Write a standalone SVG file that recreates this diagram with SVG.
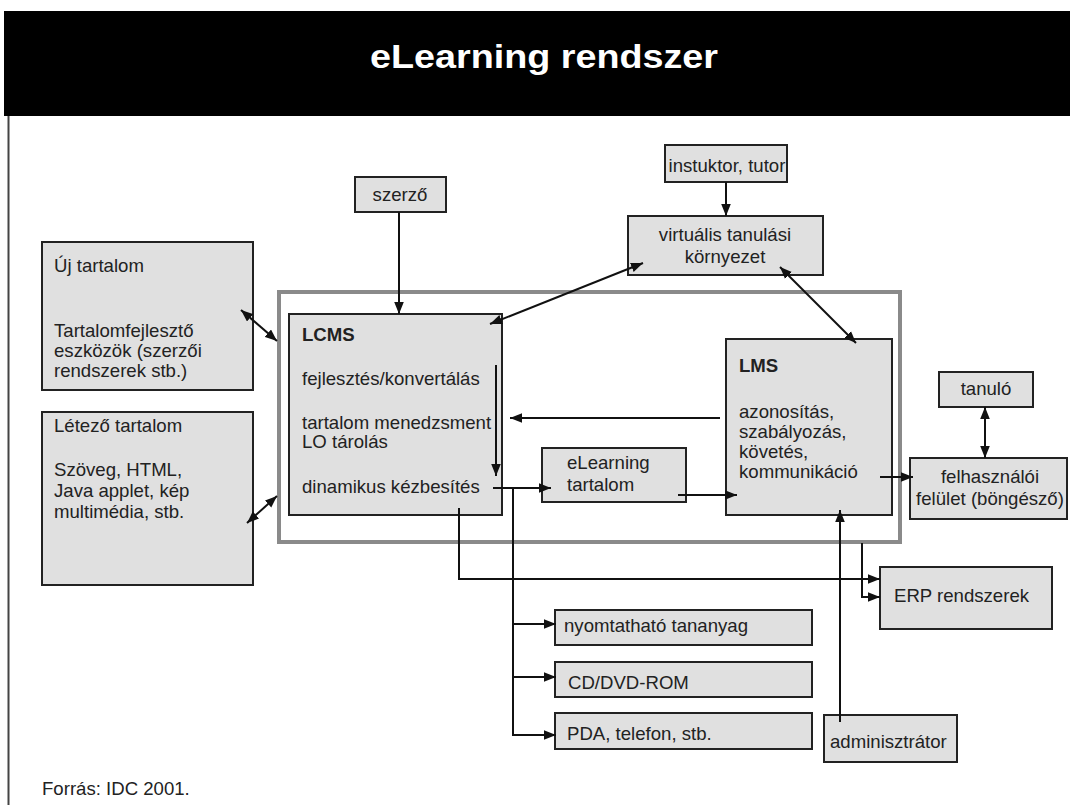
<svg xmlns="http://www.w3.org/2000/svg" width="1070" height="805" viewBox="0 0 1070 805">
<style>
.bx{fill:#e0e0e0;stroke:#222;stroke-width:2}
.t{font-family:"Liberation Sans",Arial,sans-serif;font-size:18.6px;fill:#222}
.b{font-weight:bold}
.m{text-anchor:middle}
.c{fill:none;stroke:#111;stroke-width:2}
</style>
<defs>
<marker id="ah" viewBox="0 0 10 8" refX="10" refY="4" markerWidth="12" markerHeight="10" markerUnits="userSpaceOnUse" orient="auto-start-reverse">
<path d="M0,0 L10,4 L0,8 z" fill="#111"/>
</marker>
</defs>
<rect x="0" y="0" width="1070" height="805" fill="#fff"/>
<g id="title">
<rect x="4" y="11" width="1066" height="105" fill="#000"/>
<text x="544" y="68" font-family="'Liberation Sans',Arial,sans-serif" font-size="33" font-weight="bold" fill="#fff" text-anchor="middle" textLength="348" lengthAdjust="spacingAndGlyphs">eLearning rendszer</text>
</g>
<line x1="8.5" y1="116" x2="8.5" y2="805" stroke="#444" stroke-width="2"/>
<g id="frame">
<rect x="279" y="292" width="621" height="250" fill="none" stroke="#8a8a8a" stroke-width="4"/>
</g>
<g id="szerzo">
<rect class="bx" x="355" y="177" width="91" height="35"/>
<text class="t m" x="400" y="201">szerző</text>
</g>
<g id="uj-tartalom">
<rect class="bx" x="42" y="242" width="211" height="148"/>
<text class="t" x="54" y="272">Új tartalom</text>
<text class="t" x="54" y="337">Tartalomfejlesztő</text>
<text class="t" x="54" y="357">eszközök (szerzői</text>
<text class="t" x="54" y="377">rendszerek stb.)</text>
</g>
<g id="letezo-tartalom">
<rect class="bx" x="42" y="412" width="211" height="173"/>
<text class="t" x="54" y="432">Létező tartalom</text>
<text class="t" x="54" y="476">Szöveg, HTML,</text>
<text class="t" x="54" y="497">Java applet, kép</text>
<text class="t" x="54" y="518">multimédia, stb.</text>
</g>
<g id="lcms">
<rect class="bx" x="289" y="314" width="213" height="201"/>
<text class="t b" x="302" y="341">LCMS</text>
<text class="t" x="302" y="385">fejlesztés/konvertálás</text>
<text class="t" x="302" y="429">tartalom menedzsment</text>
<text class="t" x="302" y="448">LO tárolás</text>
<text class="t" x="302" y="493">dinamikus kézbesítés</text>
</g>
<g id="instruktor">
<rect class="bx" x="665" y="145" width="122" height="37"/>
<text class="t m" x="727" y="172">instuktor, tutor</text>
</g>
<g id="virtualis">
<rect class="bx" x="628" y="216" width="195" height="59"/>
<text class="t m" x="725" y="241">virtuális tanulási</text>
<text class="t m" x="725" y="263">környezet</text>
</g>
<g id="lms">
<rect class="bx" x="726" y="339" width="166" height="176"/>
<text class="t b" x="739" y="372">LMS</text>
<text class="t" x="739" y="418">azonosítás,</text>
<text class="t" x="739" y="438">szabályozás,</text>
<text class="t" x="739" y="458">követés,</text>
<text class="t" x="739" y="478">kommunikáció</text>
</g>
<g id="elearning-tartalom">
<rect class="bx" x="542" y="448" width="144" height="54"/>
<text class="t" x="567" y="469">eLearning</text>
<text class="t" x="567" y="491">tartalom</text>
</g>
<g id="tanulo">
<rect class="bx" x="939" y="372" width="94" height="35"/>
<text class="t m" x="986" y="395">tanuló</text>
</g>
<g id="felhasznaloi">
<rect class="bx" x="910" y="458" width="157" height="61"/>
<text class="t m" x="990" y="483">felhasználói</text>
<text class="t m" x="990" y="505">felület (böngésző)</text>
</g>
<g id="erp">
<rect class="bx" x="880" y="567" width="172" height="62"/>
<text class="t" x="894" y="602">ERP rendszerek</text>
</g>
<g id="nyomtathato">
<rect class="bx" x="555" y="610" width="257" height="35"/>
<text class="t" x="564" y="632">nyomtatható tananyag</text>
</g>
<g id="cd">
<rect class="bx" x="555" y="662" width="257" height="35"/>
<text class="t" x="568" y="689">CD/DVD-ROM</text>
</g>
<g id="pda">
<rect class="bx" x="555" y="713" width="257" height="36"/>
<text class="t" x="567" y="740">PDA, telefon, stb.</text>
</g>
<g id="admin">
<rect class="bx" x="824" y="715" width="133" height="47"/>
<text class="t" x="830" y="748">adminisztrátor</text>
</g>
<g id="connectors">
<line class="c" x1="399" y1="212" x2="399" y2="314" marker-end="url(#ah)"/>
<line class="c" x1="241" y1="310" x2="277" y2="341" marker-start="url(#ah)" marker-end="url(#ah)"/>
<line class="c" x1="247" y1="523" x2="277" y2="496" marker-start="url(#ah)" marker-end="url(#ah)"/>
<line class="c" x1="490" y1="324" x2="643" y2="263" marker-start="url(#ah)" marker-end="url(#ah)"/>
<line class="c" x1="726" y1="182" x2="726" y2="216" marker-end="url(#ah)"/>
<line class="c" x1="780" y1="267" x2="856" y2="343" marker-start="url(#ah)" marker-end="url(#ah)"/>
<line class="c" x1="496" y1="365" x2="496" y2="476" marker-end="url(#ah)"/>
<line class="c" x1="720" y1="418" x2="510" y2="418" marker-end="url(#ah)"/>
<line class="c" x1="493" y1="488" x2="551" y2="488" marker-end="url(#ah)"/>
<line class="c" x1="678" y1="495" x2="737" y2="495" marker-end="url(#ah)"/>
<polyline class="c" points="513,488 513,735 556,735" marker-end="url(#ah)"/>
<line class="c" x1="513" y1="624" x2="556" y2="624" marker-end="url(#ah)"/>
<line class="c" x1="513" y1="677" x2="556" y2="677" marker-end="url(#ah)"/>
<polyline class="c" points="459,508 459,579 880,579" marker-end="url(#ah)"/>
<polyline class="c" points="862,543 862,597 880,597" marker-end="url(#ah)"/>
<line class="c" x1="840" y1="722" x2="840" y2="510" marker-end="url(#ah)"/>
<line class="c" x1="880" y1="477" x2="913" y2="477" marker-end="url(#ah)"/>
<line class="c" x1="985" y1="407" x2="985" y2="458" marker-start="url(#ah)" marker-end="url(#ah)"/>
</g>
<g id="footer">
<text class="t" x="42" y="795">Forrás: IDC 2001.</text>
</g>
</svg>
